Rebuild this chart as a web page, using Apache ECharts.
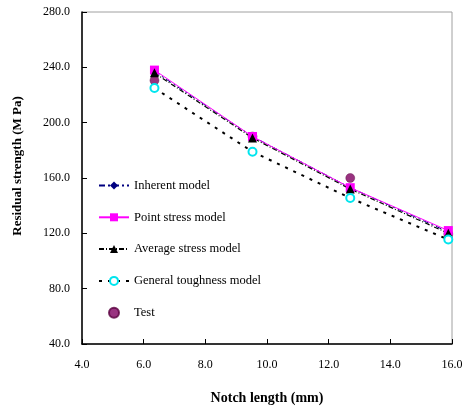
<!DOCTYPE html>
<html><head><meta charset="utf-8">
<script src="https://cdn.jsdelivr.net/npm/echarts@6/dist/echarts.min.js"></script>
<style>html,body{margin:0;padding:0;background:#fff}#c{width:471px;height:411px}</style>
</head><body><div id="c"></div>
<script>
const notch = [6.35, 9.53, 12.7, 15.88];
const inherent = [237, 190, 153, 121];
const pointStress = [238, 190, 153, 122];
const averageStress = [236, 189, 152, 120];
const generalToughness = [225, 179, 145.5, 115.5];
const test = [230.5, 190, 160, 119.5];
const xTicks = [4, 6, 8, 10, 12, 14, 16];
const yTicks = [40, 80, 120, 160, 200, 240, 280];

const pair = arr => notch.map((x, i) => [x, arr[i]]);
const font = 'Liberation Serif';

const chart = echarts.init(document.getElementById('c'));
chart.setOption({
  animation: false,
  grid: {left: 82, top: 12, right: 19, bottom: 67, show: true, borderColor: '#a0a0a0', borderWidth: 1},
  legend: {
    orient: 'vertical', left: 93, top: 174, itemWidth: 30, itemHeight: 10, itemGap: 18.8,
    textStyle: {fontFamily: font, fontSize: 12.5, color: '#000'},
    data: ['Inherent model', 'Point stress model', 'Average stress model', 'General toughness model', 'Test']
  },
  xAxis: {
    type: 'value', min: xTicks[0], max: xTicks[xTicks.length - 1], interval: 2,
    name: 'Notch length (mm)', nameLocation: 'middle', nameGap: 47,
    nameTextStyle: {fontFamily: font, fontSize: 14, fontWeight: 'bold', color: '#000'},
    axisLine: {lineStyle: {color: '#000', width: 1.5}},
    axisTick: {inside: true, length: 5, lineStyle: {color: '#000'}},
    axisLabel: {fontFamily: font, fontSize: 12, color: '#000', margin: 15, formatter: v => v.toFixed(1)},
    splitLine: {show: false}
  },
  yAxis: {
    type: 'value', min: yTicks[0], max: yTicks[yTicks.length - 1], interval: 40,
    name: 'Residual strength (M Pa)', nameLocation: 'middle', nameGap: 58,
    nameTextStyle: {fontFamily: font, fontSize: 13, fontWeight: 'bold', color: '#000', padding: [0, 0, 0, 24]},
    axisLine: {show: true, lineStyle: {color: '#000', width: 1.5}},
    axisTick: {show: true, inside: true, length: 5, lineStyle: {color: '#000'}},
    axisLabel: {fontFamily: font, fontSize: 12, color: '#000', margin: 12, formatter: v => v.toFixed(1)},
    splitLine: {show: false}
  },
  series: [
    {name: 'Inherent model', type: 'line', data: pair(inherent), symbol: 'diamond', symbolSize: 8,
     itemStyle: {color: '#000080'}, lineStyle: {color: '#000080', width: 1, type: [6, 3, 2, 3]}},
    {name: 'Point stress model', type: 'line', data: pair(pointStress), symbol: 'rect', symbolSize: 9,
     itemStyle: {color: '#ff00ff'}, lineStyle: {color: '#ff00ff', width: 1}},
    {name: 'Average stress model', type: 'line', data: pair(averageStress), symbol: 'triangle', symbolSize: 9,
     itemStyle: {color: '#000'}, lineStyle: {color: '#000', width: 1.2, type: [5, 2, 1, 2]}},
    {name: 'General toughness model', type: 'line', data: pair(generalToughness), symbol: 'emptyCircle', symbolSize: 8,
     itemStyle: {color: '#00e5ee', borderWidth: 1.5}, lineStyle: {color: '#000', width: 2, type: [3, 6]}},
    {name: 'Test', type: 'scatter', data: pair(test), symbol: 'circle', symbolSize: 9,
     itemStyle: {color: '#800060', borderColor: '#5a0040', borderWidth: 0.5}}
  ]
});
</script></body></html>
